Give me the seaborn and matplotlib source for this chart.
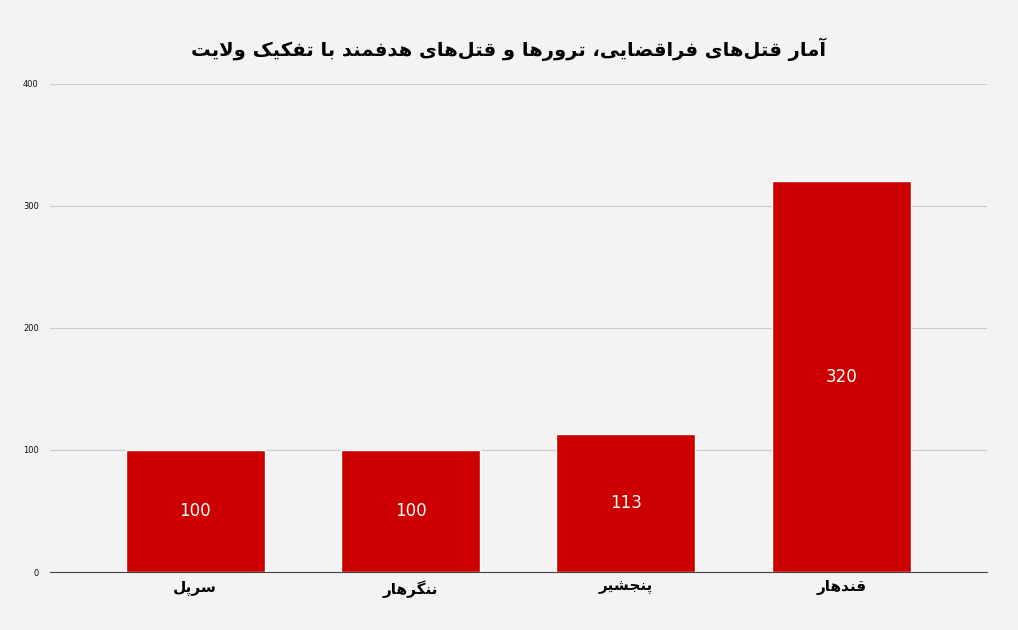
import matplotlib
matplotlib.use("Agg")
import matplotlib.pyplot as plt
import seaborn as sns
import pandas as pd

title = "آمار قتل‌های فراقضایی، ترورها و قتل‌های هدفمند با تفکیک ولایت"
categories = ["سرپل", "ننگرهار", "پنجشیر", "قندهار"]
values = [100, 100, 113, 320]

FORMS = {  # isolated, final, initial, medial
    'ا': (0xFE8D, 0xFE8E, None, None), 'آ': (0xFE81, 0xFE82, None, None),
    'ب': (0xFE8F, 0xFE90, 0xFE91, 0xFE92), 'ت': (0xFE95, 0xFE96, 0xFE97, 0xFE98),
    'ج': (0xFE9D, 0xFE9E, 0xFE9F, 0xFEA0), 'د': (0xFEA9, 0xFEAA, None, None),
    'ر': (0xFEAD, 0xFEAE, None, None), 'س': (0xFEB1, 0xFEB2, 0xFEB3, 0xFEB4),
    'ش': (0xFEB5, 0xFEB6, 0xFEB7, 0xFEB8), 'ض': (0xFEBD, 0xFEBE, 0xFEBF, 0xFEC0),
    'ف': (0xFED1, 0xFED2, 0xFED3, 0xFED4), 'ق': (0xFED5, 0xFED6, 0xFED7, 0xFED8),
    'ل': (0xFEDD, 0xFEDE, 0xFEDF, 0xFEE0), 'م': (0xFEE1, 0xFEE2, 0xFEE3, 0xFEE4),
    'ن': (0xFEE5, 0xFEE6, 0xFEE7, 0xFEE8), 'ه': (0xFEE9, 0xFEEA, 0xFEEB, 0xFEEC),
    'و': (0xFEED, 0xFEEE, None, None), 'ی': (0xFBFC, 0xFBFD, 0xFBFE, 0xFBFF),
    'ک': (0xFB8E, 0xFB8F, 0xFB90, 0xFB91), 'پ': (0xFB56, 0xFB57, 0xFB58, 0xFB59),
    'گ': (0xFB92, 0xFB93, 0xFB94, 0xFB95),
}

def dual(c):
    return c in FORMS and FORMS[c][2] is not None

def shape(s):
    chars = list(s)
    out = []
    i = 0
    n = len(chars)
    while i < n:
        c = chars[i]
        if c == '\u200c':
            i += 1
            continue
        prev = chars[i - 1] if i > 0 else ''
        jp = dual(prev) and c in FORMS
        if c == 'ل' and i + 1 < n and chars[i + 1] == 'ا':
            out.append(chr(0xFEFC if jp else 0xFEFB))
            i += 2
            continue
        if c not in FORMS:
            out.append(c)
            i += 1
            continue
        nxt = chars[i + 1] if i + 1 < n else ''
        jn = dual(c) and nxt in FORMS
        f = FORMS[c]
        if jp and jn:
            out.append(chr(f[3]))
        elif jp:
            out.append(chr(f[1]))
        elif jn:
            out.append(chr(f[2]))
        else:
            out.append(chr(f[0]))
        i += 1
    return ''.join(reversed(out))

sns.set_theme(style="whitegrid")
plt.rcParams['font.family'] = ['DejaVu Sans']
bg = "#f3f3f3"
df = pd.DataFrame({"cat": [shape(c) for c in categories], "val": values})

fig = plt.figure(figsize=(10.18, 6.30), dpi=100, facecolor=bg)
ax = fig.add_axes([0.049, 0.092, 0.921, 0.775], facecolor=bg)
sns.barplot(data=df, x="cat", y="val", color="#cc0000", saturation=1, width=0.645, ax=ax)
for p, v in zip(ax.patches, values):
    ax.text(p.get_x() + p.get_width() / 2, v / 2, str(v), ha="center", va="center",
            color="white", fontsize=12)
ax.set_xlim(-0.674, 3.678)
ax.set_ylim(0, 400)
ax.set_yticks([0, 100, 200, 300, 400])
ax.tick_params(axis='y', labelsize=6, length=0, pad=8, labelcolor="#111111")
ax.tick_params(axis='x', labelsize=11, length=0, pad=6, labelcolor="black")
for lbl in ax.get_xticklabels():
    lbl.set_fontweight('bold')
ax.set_xlabel("")
ax.set_ylabel("")
ax.grid(axis='y', color="#cccccc", linewidth=0.8)
ax.grid(axis='x', visible=False)
for s in ["left", "right", "top"]:
    ax.spines[s].set_visible(False)
ax.spines["bottom"].set_color("#444444")
ax.spines["bottom"].set_linewidth(0.8)
fig.suptitle(shape(title), fontsize=14, fontweight='bold', y=0.94, color="black")
fig.savefig("out.png", dpi=100, facecolor=bg)
